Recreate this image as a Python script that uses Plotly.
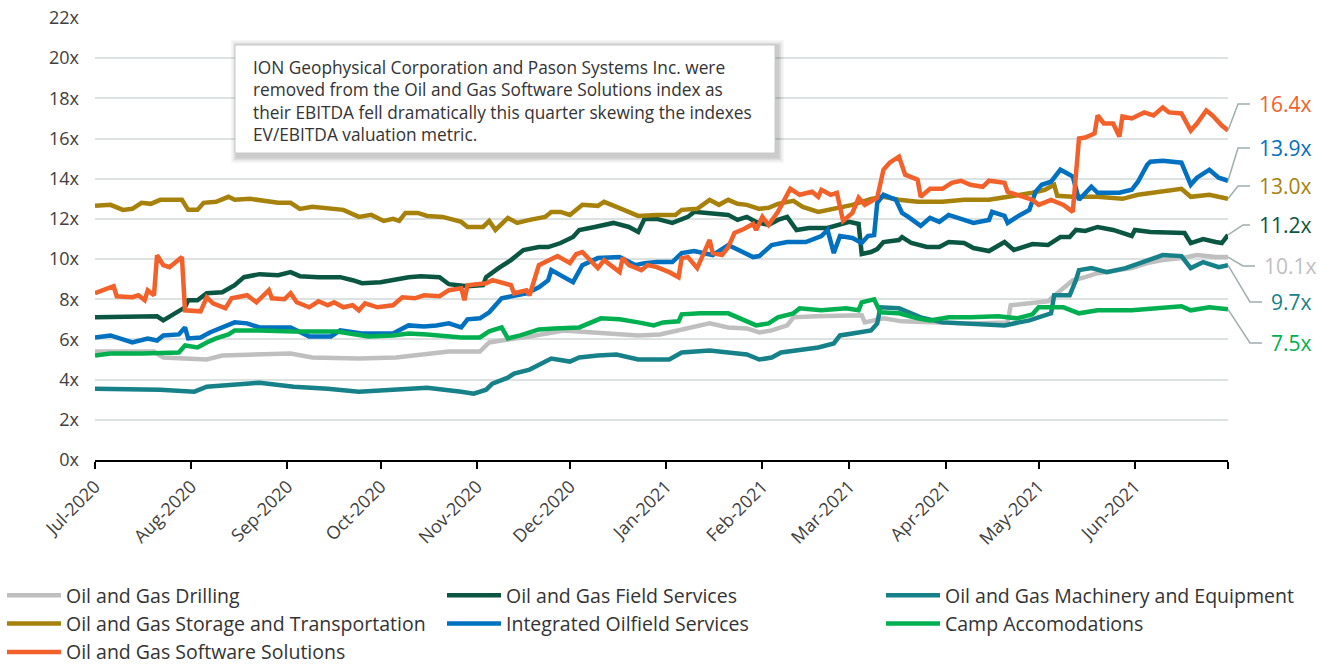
import plotly.graph_objects as go

# ---------------- data ----------------
drilling_dates = ["2020-07-01","2020-07-20","2020-07-23","2020-08-06","2020-08-11","2020-09-02","2020-09-09","2020-09-24","2020-10-06","2020-10-12","2020-10-23","2020-11-02","2020-11-05","2020-11-11","2020-11-18","2020-11-29","2020-12-10","2020-12-15","2020-12-23","2020-12-30","2021-01-06","2021-01-15","2021-01-21","2021-01-27","2021-01-31","2021-02-04","2021-02-09","2021-02-11","2021-02-18","2021-02-26","2021-03-05","2021-03-06","2021-03-12","2021-03-18","2021-03-31","2021-04-09","2021-04-21","2021-04-22","2021-04-28","2021-05-04","2021-05-07","2021-05-12","2021-05-16","2021-05-20","2021-05-31","2021-06-05","2021-06-10","2021-06-16","2021-06-21","2021-06-27","2021-07-01"]
drilling_vals = [5.4,5.4,5.1,5.0,5.2,5.3,5.1,5.05,5.1,5.2,5.4,5.4,5.85,6.0,6.15,6.45,6.35,6.3,6.2,6.25,6.5,6.8,6.6,6.55,6.35,6.45,6.7,7.1,7.15,7.2,7.2,6.85,7.05,6.9,6.85,6.8,6.85,7.7,7.8,7.9,8.3,8.95,9.1,9.3,9.55,9.8,9.95,10.05,10.2,10.1,10.1]

field_dates = ["2020-07-01","2020-07-11","2020-07-21","2020-07-23","2020-07-27","2020-07-30","2020-07-31","2020-08-03","2020-08-06","2020-08-11","2020-08-15","2020-08-18","2020-08-23","2020-08-29","2020-09-02","2020-09-05","2020-09-11","2020-09-18","2020-09-22","2020-09-25","2020-10-01","2020-10-04","2020-10-10","2020-10-14","2020-10-20","2020-10-23","2020-10-29","2020-11-03","2020-11-04","2020-11-08","2020-11-12","2020-11-16","2020-11-21","2020-11-24","2020-11-28","2020-12-02","2020-12-04","2020-12-09","2020-12-15","2020-12-20","2020-12-23","2020-12-25","2020-12-29","2021-01-03","2021-01-08","2021-01-10","2021-01-14","2021-01-21","2021-01-24","2021-01-27","2021-01-30","2021-02-03","2021-02-06","2021-02-09","2021-02-12","2021-02-16","2021-02-22","2021-02-26","2021-03-01","2021-03-04","2021-03-05","2021-03-08","2021-03-10","2021-03-12","2021-03-17","2021-03-18","2021-03-21","2021-03-26","2021-03-30","2021-04-02","2021-04-07","2021-04-10","2021-04-15","2021-04-20","2021-04-23","2021-04-29","2021-05-04","2021-05-08","2021-05-11","2021-05-13","2021-05-16","2021-05-20","2021-05-25","2021-05-31","2021-06-01","2021-06-06","2021-06-17","2021-06-19","2021-06-23","2021-06-27","2021-06-29","2021-07-01"]
field_vals = [7.1,7.15,7.15,6.95,7.3,7.6,7.95,7.95,8.3,8.35,8.7,9.1,9.25,9.2,9.35,9.15,9.1,9.1,8.95,8.8,8.85,8.95,9.1,9.15,9.1,8.75,8.65,8.7,9.1,9.55,9.95,10.45,10.6,10.6,10.8,11.1,11.45,11.6,11.8,11.6,11.35,12.0,12.0,11.8,12.1,12.35,12.3,12.2,11.95,12.1,11.85,11.7,11.95,12.1,11.45,11.55,11.55,11.7,11.85,11.75,10.25,10.35,10.5,10.85,10.95,11.1,10.8,10.6,10.6,10.85,10.8,10.55,10.4,10.85,10.45,10.75,10.7,11.1,11.1,11.45,11.4,11.6,11.45,11.15,11.45,11.35,11.3,10.8,11.0,10.85,10.8,11.2]

machinery_dates = ["2020-07-01","2020-07-22","2020-08-02","2020-08-06","2020-08-23","2020-09-03","2020-09-14","2020-09-24","2020-10-05","2020-10-16","2020-10-27","2020-10-31","2020-11-04","2020-11-06","2020-11-11","2020-11-13","2020-11-18","2020-11-25","2020-12-01","2020-12-04","2020-12-10","2020-12-16","2020-12-23","2021-01-02","2021-01-06","2021-01-15","2021-01-21","2021-01-27","2021-01-31","2021-02-04","2021-02-07","2021-02-13","2021-02-19","2021-02-24","2021-02-26","2021-03-02","2021-03-08","2021-03-10","2021-03-11","2021-03-17","2021-03-24","2021-03-31","2021-04-10","2021-04-20","2021-04-28","2021-05-05","2021-05-06","2021-05-11","2021-05-13","2021-05-14","2021-05-18","2021-05-23","2021-05-29","2021-06-04","2021-06-10","2021-06-16","2021-06-19","2021-06-23","2021-06-28","2021-07-01"]
machinery_vals = [3.55,3.5,3.4,3.65,3.85,3.65,3.55,3.4,3.5,3.6,3.4,3.3,3.5,3.8,4.1,4.3,4.5,5.05,4.9,5.1,5.2,5.25,5.0,5.0,5.35,5.45,5.35,5.25,5.0,5.1,5.35,5.45,5.6,5.8,6.2,6.3,6.45,6.8,7.6,7.55,7.1,6.85,6.8,6.7,6.95,7.3,8.2,8.2,8.95,9.45,9.55,9.35,9.55,9.85,10.2,10.15,9.55,9.85,9.6,9.7]

storage_dates = ["2020-07-01","2020-07-06","2020-07-10","2020-07-13","2020-07-16","2020-07-19","2020-07-22","2020-07-29","2020-07-31","2020-08-03","2020-08-05","2020-08-09","2020-08-13","2020-08-15","2020-08-20","2020-08-24","2020-08-29","2020-09-02","2020-09-05","2020-09-09","2020-09-14","2020-09-19","2020-09-24","2020-09-28","2020-10-02","2020-10-05","2020-10-07","2020-10-09","2020-10-13","2020-10-16","2020-10-21","2020-10-27","2020-10-29","2020-11-03","2020-11-05","2020-11-07","2020-11-11","2020-11-14","2020-11-18","2020-11-23","2020-11-25","2020-11-28","2020-12-01","2020-12-05","2020-12-10","2020-12-12","2020-12-16","2020-12-20","2020-12-23","2020-12-29","2021-01-04","2021-01-06","2021-01-11","2021-01-15","2021-01-18","2021-01-21","2021-01-24","2021-01-27","2021-01-31","2021-02-03","2021-02-06","2021-02-11","2021-02-14","2021-02-19","2021-02-24","2021-03-02","2021-03-08","2021-03-12","2021-03-17","2021-03-23","2021-03-31","2021-04-07","2021-04-15","2021-04-22","2021-04-29","2021-05-03","2021-05-06","2021-05-07","2021-05-12","2021-05-20","2021-05-28","2021-06-02","2021-06-09","2021-06-16","2021-06-19","2021-06-25","2021-07-01"]
storage_vals = [12.65,12.7,12.45,12.5,12.8,12.75,12.95,12.95,12.45,12.45,12.8,12.85,13.1,12.95,13.0,12.9,12.8,12.8,12.5,12.6,12.5,12.45,12.1,12.2,11.9,12.0,11.9,12.3,12.3,12.15,12.1,11.85,11.6,11.6,11.9,11.45,12.05,11.8,11.95,12.1,12.35,12.35,12.2,12.7,12.65,12.85,12.6,12.35,12.15,12.2,12.2,12.45,12.5,12.95,12.7,12.95,12.75,12.7,12.5,12.55,12.75,12.9,12.6,12.35,12.5,12.7,13.0,13.1,12.95,12.85,12.85,12.95,12.95,13.1,13.3,13.45,13.7,13.15,13.1,13.1,13.0,13.2,13.35,13.5,13.1,13.2,13.0]

integrated_dates = ["2020-07-01","2020-07-06","2020-07-13","2020-07-18","2020-07-21","2020-07-23","2020-07-28","2020-07-30","2020-07-31","2020-08-04","2020-08-07","2020-08-15","2020-08-19","2020-08-23","2020-09-02","2020-09-08","2020-09-15","2020-09-18","2020-09-25","2020-10-05","2020-10-10","2020-10-15","2020-10-19","2020-10-23","2020-10-27","2020-10-29","2020-11-02","2020-11-05","2020-11-09","2020-11-13","2020-11-17","2020-11-21","2020-11-24","2020-11-25","2020-11-28","2020-12-02","2020-12-05","2020-12-10","2020-12-17","2020-12-22","2020-12-25","2020-12-29","2021-01-03","2021-01-06","2021-01-10","2021-01-13","2021-01-16","2021-01-21","2021-01-25","2021-01-29","2021-01-31","2021-02-04","2021-02-09","2021-02-15","2021-02-20","2021-02-22","2021-02-24","2021-02-26","2021-03-02","2021-03-05","2021-03-07","2021-03-09","2021-03-10","2021-03-12","2021-03-16","2021-03-18","2021-03-20","2021-03-24","2021-03-27","2021-03-30","2021-04-02","2021-04-07","2021-04-10","2021-04-15","2021-04-16","2021-04-20","2021-04-21","2021-04-24","2021-04-28","2021-04-30","2021-05-02","2021-05-05","2021-05-08","2021-05-11","2021-05-12","2021-05-14","2021-05-18","2021-05-20","2021-05-27","2021-05-31","2021-06-02","2021-06-05","2021-06-06","2021-06-10","2021-06-16","2021-06-19","2021-06-21","2021-06-25","2021-06-28","2021-07-01"]
integrated_vals = [6.1,6.2,5.85,6.05,5.95,6.2,6.25,6.6,6.05,6.1,6.35,6.85,6.8,6.6,6.6,6.15,6.15,6.45,6.3,6.3,6.7,6.65,6.7,6.8,6.6,7.0,7.05,7.35,8.05,8.2,8.3,8.6,8.95,9.45,9.2,8.85,9.7,10.05,10.1,9.7,9.8,9.85,9.85,10.3,10.4,10.3,10.2,10.7,10.4,10.1,10.15,10.7,10.85,10.85,11.15,11.45,10.3,11.15,11.05,10.8,11.15,11.2,12.8,13.2,12.95,12.3,12.1,11.65,12.05,11.85,12.2,11.95,11.8,11.95,12.35,12.15,11.8,12.1,12.45,13.35,13.7,13.85,14.45,14.2,14.1,12.95,13.6,13.3,13.3,13.45,13.85,14.7,14.85,14.9,14.8,13.7,14.05,14.45,14.05,13.9]

camp_dates = ["2020-07-01","2020-07-06","2020-07-16","2020-07-28","2020-07-30","2020-08-03","2020-08-06","2020-08-09","2020-08-13","2020-08-15","2020-08-23","2020-09-03","2020-09-17","2020-09-22","2020-09-27","2020-10-05","2020-10-10","2020-10-16","2020-10-27","2020-11-02","2020-11-05","2020-11-09","2020-11-11","2020-11-15","2020-11-21","2020-11-26","2020-12-04","2020-12-11","2020-12-17","2020-12-23","2020-12-28","2020-12-31","2021-01-05","2021-01-06","2021-01-12","2021-01-21","2021-01-26","2021-01-30","2021-02-03","2021-02-06","2021-02-11","2021-02-13","2021-02-20","2021-02-28","2021-03-04","2021-03-05","2021-03-09","2021-03-11","2021-03-17","2021-03-23","2021-03-27","2021-04-02","2021-04-09","2021-04-18","2021-04-24","2021-04-29","2021-05-01","2021-05-09","2021-05-14","2021-05-20","2021-05-31","2021-06-10","2021-06-16","2021-06-19","2021-06-25","2021-07-01"]
camp_vals = [5.2,5.3,5.3,5.35,5.7,5.6,5.85,6.05,6.25,6.45,6.45,6.4,6.4,6.25,6.15,6.2,6.3,6.25,6.1,6.1,6.4,6.6,6.05,6.2,6.5,6.55,6.6,7.05,7.0,6.85,6.7,6.85,6.9,7.25,7.3,7.3,6.95,6.7,6.8,7.1,7.3,7.55,7.45,7.55,7.45,7.85,8.0,7.35,7.3,7.05,6.95,7.1,7.1,7.15,7.05,7.25,7.6,7.6,7.3,7.45,7.45,7.55,7.65,7.45,7.6,7.5]

software_dates = ["2020-07-01","2020-07-07","2020-07-08","2020-07-13","2020-07-15","2020-07-17","2020-07-18","2020-07-20","2020-07-21","2020-07-23","2020-07-25","2020-07-29","2020-07-30","2020-08-04","2020-08-06","2020-08-08","2020-08-12","2020-08-14","2020-08-19","2020-08-22","2020-08-26","2020-08-27","2020-08-31","2020-09-02","2020-09-04","2020-09-08","2020-09-11","2020-09-14","2020-09-16","2020-09-19","2020-09-22","2020-09-24","2020-09-26","2020-09-30","2020-10-05","2020-10-08","2020-10-12","2020-10-15","2020-10-20","2020-10-23","2020-10-27","2020-10-28","2020-10-29","2020-11-04","2020-11-06","2020-11-12","2020-11-13","2020-11-17","2020-11-18","2020-11-21","2020-11-27","2020-12-01","2020-12-03","2020-12-05","2020-12-10","2020-12-12","2020-12-17","2020-12-18","2020-12-20","2020-12-24","2020-12-26","2020-12-29","2021-01-02","2021-01-05","2021-01-06","2021-01-08","2021-01-11","2021-01-15","2021-01-16","2021-01-19","2021-01-21","2021-01-23","2021-01-26","2021-01-29","2021-01-30","2021-02-01","2021-02-03","2021-02-06","2021-02-10","2021-02-13","2021-02-17","2021-02-19","2021-02-20","2021-02-23","2021-02-25","2021-02-27","2021-03-02","2021-03-04","2021-03-06","2021-03-10","2021-03-12","2021-03-14","2021-03-17","2021-03-19","2021-03-23","2021-03-24","2021-03-27","2021-03-31","2021-04-03","2021-04-06","2021-04-09","2021-04-13","2021-04-15","2021-04-20","2021-04-21","2021-04-24","2021-04-29","2021-05-01","2021-05-05","2021-05-09","2021-05-12","2021-05-14","2021-05-16","2021-05-19","2021-05-20","2021-05-22","2021-05-25","2021-05-27","2021-05-28","2021-05-31","2021-06-04","2021-06-07","2021-06-10","2021-06-12","2021-06-16","2021-06-19","2021-06-21","2021-06-24","2021-06-26","2021-06-29","2021-07-01"]
software_vals = [8.3,8.65,8.15,8.1,8.2,7.95,8.45,8.2,10.2,9.7,9.6,10.1,7.45,7.4,8.1,7.8,7.55,8.05,8.2,7.85,8.45,8.05,8.0,8.3,7.85,7.6,7.9,7.7,7.85,7.6,7.7,7.45,7.8,7.6,7.7,8.1,8.05,8.2,8.15,8.45,8.55,7.95,8.7,8.8,8.95,8.7,8.3,8.45,8.2,9.7,10.15,9.8,10.25,10.35,9.55,9.95,9.35,10.05,9.7,9.45,9.7,9.6,9.35,9.1,10.05,10.1,9.55,10.95,10.3,10.2,10.6,11.3,11.5,11.75,11.45,12.1,11.7,12.35,13.5,13.2,13.35,13.1,13.45,13.2,13.3,11.9,12.3,13.05,12.7,13.05,14.45,14.8,15.1,14.2,13.95,13.1,13.5,13.5,13.8,13.9,13.7,13.6,13.9,13.8,13.35,13.2,12.95,12.7,12.95,12.7,12.35,16.0,16.05,16.25,17.15,16.75,16.75,16.1,17.1,17.0,17.3,17.15,17.55,17.3,17.25,16.4,16.75,17.4,17.15,16.65,16.4]

series_names = ["Oil and Gas Drilling", "Oil and Gas Field Services", "Oil and Gas Machinery and Equipment",
                "Oil and Gas Storage and Transportation", "Integrated Oilfield Services", "Camp Accomodations",
                "Oil and Gas Software Solutions"]
series_dates = [drilling_dates, field_dates, machinery_dates, storage_dates, integrated_dates, camp_dates, software_dates]
series_vals = [drilling_vals, field_vals, machinery_vals, storage_vals, integrated_vals, camp_vals, software_vals]
series_colors = ["#BFBFBF", "#0B5642", "#168188", "#A6820C", "#0070C0", "#00B050", "#F2612A"]
# legend column of each series (3 columns, filled row by row)
series_legend = ["legend", "legend2", "legend3", "legend", "legend2", "legend3", "legend"]

end_labels = ["10.1x", "11.2x", "9.7x", "13.0x", "13.9x", "7.5x", "16.4x"]

tick_dates = ["2020-07-01","2020-08-01","2020-09-01","2020-10-01","2020-11-01","2020-12-01",
              "2021-01-01","2021-02-01","2021-03-01","2021-04-01","2021-05-01","2021-06-01","2021-07-01"]
tick_text = ["Jul-2020","Aug-2020","Sep-2020","Oct-2020","Nov-2020","Dec-2020",
             "Jan-2021","Feb-2021","Mar-2021","Apr-2021","May-2021","Jun-2021",""]
y_ticks = list(range(0, 23, 2))
y_tick_text = [f"{v}x" for v in y_ticks]

note = ("ION Geophysical Corporation and Pason Systems Inc. were<br>"
        "removed from the Oil and Gas Software Solutions index as<br>"
        "their EBITDA fell dramatically this quarter skewing the indexes<br>"
        "EV/EBITDA valuation metric.")

# ---------------- layout geometry (pixels) ----------------
W, H = 1322, 666
L, R, T, B = 95, 94, 18, 206
PW, PH = W - L - R, H - T - B
Y_MAX = 22
FONT = "Open Sans, Noto Sans, sans-serif"
TXT = "#404040"


def px(xp):
    return (xp - L) / PW


def py(yp):
    return (H - B - yp) / PH


fig = go.Figure()
for name, d, v, c, lg in zip(series_names, series_dates, series_vals, series_colors, series_legend):
    fig.add_trace(go.Scatter(x=d, y=v, name=name, mode="lines", legend=lg,
                             line=dict(color=c, width=4.5), hoverinfo="skip"))

shapes = []
# drop shadow for the note box
box = (235, 45, 775, 153)
for i, a in enumerate([0.035, 0.045, 0.06, 0.08]):
    g = 6 - i * 1.5
    shapes.append(dict(type="rect", xref="paper", yref="paper",
                       x0=px(box[0] - g + 2), x1=px(box[2] + g + 3),
                       y0=py(box[3] + g + 4), y1=py(box[1] - g + 1),
                       line=dict(width=0), fillcolor=f"rgba(0,0,0,{a})", layer="above"))
shapes.append(dict(type="rect", xref="paper", yref="paper",
                   x0=px(box[0]), x1=px(box[2]), y0=py(box[3]), y1=py(box[1]),
                   line=dict(color="#C8C8C8", width=1), fillcolor="white", layer="above"))

# leader lines and end labels
label_y = [266, 225, 302, 186, 148, 343, 104]
bend_x = [1243, 1243, 1250, 1238, 1238, 1250, 1238]
stub_x = [1255, 1250, 1262, 1250, 1250, 1262, 1250]
annotations = []
for vals, lab, c, ly, bx, sx in zip(series_vals, end_labels, series_colors, label_y, bend_x, stub_x):
    y_end = vals[-1] / Y_MAX
    path = f"M 1.0 {y_end} L {px(bx)} {py(ly)} L {px(sx)} {py(ly)}"
    shapes.append(dict(type="path", xref="paper", yref="paper", path=path,
                       line=dict(color="#9FAFAD", width=1.5)))
    annotations.append(dict(xref="paper", yref="paper", x=px(sx + 7), y=py(ly),
                            xanchor="left", yanchor="middle", showarrow=False,
                            text=lab, font=dict(family=FONT, size=21, color=c)))

annotations.append(dict(xref="paper", yref="paper", x=px(251), y=py(54),
                        xanchor="left", yanchor="top", align="left", showarrow=False,
                        text=note, font=dict(family=FONT, size=17.3, color="#333333")))

leg_common = dict(orientation="v", xanchor="left", y=py(576), yanchor="top", itemwidth=54,
                  font=dict(family=FONT, size=19.5, color="#333333"),
                  bgcolor="rgba(0,0,0,0)", borderwidth=0)

fig.update_layout(
    width=W, height=H,
    margin=dict(l=L, r=R, t=T, b=B, autoexpand=False),
    paper_bgcolor="white", plot_bgcolor="white",
    font=dict(family=FONT, color=TXT),
    showlegend=True,
    legend=dict(x=px(2), **leg_common),
    legend2=dict(x=px(442), **leg_common),
    legend3=dict(x=px(881), **leg_common),
    xaxis=dict(type="date", range=["2020-07-01", "2021-07-01"],
               tickmode="array", tickvals=tick_dates, ticktext=tick_text,
               tickangle=-45, ticks="outside", ticklen=7, tickwidth=1.5, tickcolor="#000000",
               showline=True, linecolor="#000000", linewidth=2, showgrid=False, zeroline=False,
               tickfont=dict(family=FONT, size=18, color=TXT)),
    yaxis=dict(range=[0, Y_MAX], tickmode="array", tickvals=y_ticks, ticktext=y_tick_text,
               showgrid=True, gridcolor="#DCE2E1", gridwidth=2, zeroline=False,
               showline=False, ticks="", ticklabelstandoff=15,
               tickfont=dict(family=FONT, size=18, color=TXT)),
    shapes=shapes, annotations=annotations,
    hovermode=False,
)

fig.write_html("out.html", config={"displayModeBar": False},
               post_script="document.body.style.margin='0px';")
